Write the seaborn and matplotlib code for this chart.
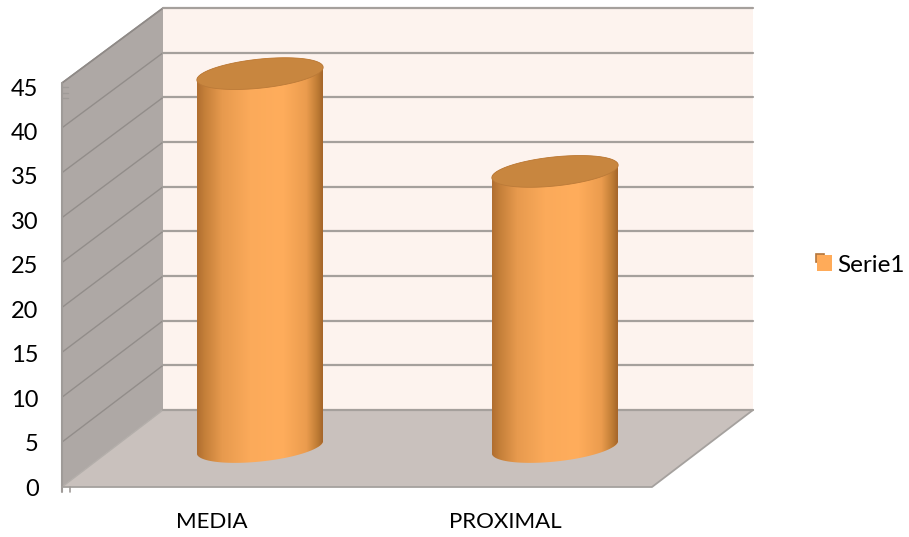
import numpy as np
import pandas as pd
import matplotlib
matplotlib.use("Agg")
import matplotlib.pyplot as plt
import seaborn as sns
from matplotlib.colors import LinearSegmentedColormap
from matplotlib.patches import Polygon, Rectangle, PathPatch, Patch
from matplotlib.path import Path
from matplotlib.transforms import IdentityTransform

categories = ["MEDIA", "PROXIMAL"]
values = [42, 31]
series_name = "Serie1"
y_ticks = [0, 5, 10, 15, 20, 25, 30, 35, 40, 45]

sns.set_theme(style="white")
plt.rcParams["font.family"] = ["Lato", "DejaVu Sans"]

W, H = 909, 537
fig = plt.figure(figsize=(W / 100, H / 100), dpi=100)
fig.patch.set_facecolor("white")


def box(x0, y0, x1, y1):
    return [x0 / W, 1 - y1 / H, (x1 - x0) / W, (y1 - y0) / H]


WALL = "#fdf3ee"
SIDE = "#aea8a5"
FLOOR = "#c9c1bd"
LINE = "#a5a09c"
BAR = "#ffab59"
TEXT = "#000000"

# Side wall and floor, in pixel space
bg = fig.add_axes([0, 0, 1, 1], zorder=0)
bg.set_xlim(0, W)
bg.set_ylim(H, 0)
bg.axis("off")
bg.add_patch(Polygon([(62, 83), (163, 8), (163, 410), (62, 487)], fc=SIDE, ec="none"))
bg.add_patch(Polygon([(62, 487), (163, 410), (753, 410), (652, 487)], fc=FLOOR, ec="none"))
for v in y_ticks[1:]:
    bg.plot([62, 163], [487 - v * 8.98, 410 - v * 8.93], color="#928d8a", lw=1.0, solid_capstyle="butt")
bg.plot([62, 163], [83, 8], color="#8f8a87", lw=1.2)
bg.plot([62, 163], [487, 410], color="#b3aeaa", lw=1.0)
bg.plot([62, 62], [83, 492], color="#9f9b98", lw=1.5)
bg.plot([62, 652, 753], [487, 487, 410], color="#a5a19e", lw=1.3)
bg.plot([70, 70], [487, 492], color="#9f9b98", lw=1.2)
for yy in (87, 93, 98):
    bg.plot([62, 68], [yy, yy], color="#9f9b98", lw=1.0)

# Back wall with its gridlines
wall = fig.add_axes(box(163, 8, 753, 410), zorder=1)
wall.set_facecolor(WALL)
wall.set_xlim(0, 1)
wall.set_ylim(0, 45)
wall.set_yticks(y_ticks)
wall.set_xticks([])
wall.tick_params(left=False, labelleft=False)
wall.grid(axis="y", color=LINE, lw=1.6)
for gl in wall.get_ygridlines():
    gl.set_clip_on(False)
wall.set_axisbelow(False)
for s in wall.spines.values():
    s.set_visible(False)

# Front axis carrying the tick labels
front = fig.add_axes(box(65, 87, 652, 487), zorder=2)
front.patch.set_alpha(0)
front.set_xlim(-0.5, 1.5)
front.set_ylim(0, 45)
front.set_yticks(y_ticks)
front.set_yticklabels([str(v) for v in y_ticks], fontsize=17, color=TEXT)
front.set_xticks([0, 1])
front.set_xticklabels(categories, fontsize=16, color=TEXT)
front.tick_params(axis="both", length=0)
front.tick_params(axis="y", pad=19)
front.tick_params(axis="x", pad=18)
for s in front.spines.values():
    s.set_visible(False)

# Cylinders: full-figure axes whose scales place the bars on the floor
ax = fig.add_axes([0, 0, 1, 1], zorder=3)
ax.patch.set_alpha(0)
df = pd.DataFrame({"cat": categories, "value": values, "serie": series_name})
sns.barplot(data=df, x="cat", y="value", hue="serie", palette=[BAR], width=126 / 295,
            dodge=False, saturation=1, ax=ax, legend=False, linewidth=0)
px_x, px_y = 295, 8.89
xlim = (-260 / px_x, (W - 260) / px_x)
ylim = (-(H - 447) / px_y, 447 / px_y)
ax.set_xlim(*xlim)
ax.set_ylim(*ylim)
ax.axis("off")

cmap = LinearSegmentedColormap.from_list(
    "cyl", [(0, "#b06e30"), (0.06, "#c47f39"), (0.2, "#e79a4e"), (0.42, "#fbaa5a"),
            (0.68, "#ffad5c"), (0.87, "#eb9c4e"), (0.96, "#bd7b34"), (1, "#a5652a")])
A, B, TH = 63.5, 14.5, np.radians(6)


def arc(cx, cy, t):
    return np.column_stack([
        cx + A * np.cos(t) * np.cos(TH) - B * np.sin(t) * np.sin(TH),
        cy + A * np.cos(t) * np.sin(TH) + B * np.sin(t) * np.cos(TH)])


grad = np.linspace(0, 1, 256)[None, :]
for i, (bar, v) in enumerate(zip(ax.patches, values)):
    (cx0, cy0) = ax.transData.transform((i, 0))
    (cx1, cy1) = ax.transData.transform((i, v))
    up = np.linspace(0, np.pi, 80)
    down = np.linspace(np.pi, 2 * np.pi, 80)
    outline = np.vstack([arc(cx1, cy1, up), arc(cx0, cy0, down), arc(cx1, cy1, up[:1])])
    body = Path(outline, closed=True)
    bar.set_clip_path(body, IdentityTransform())
    x0, wd = bar.get_x(), bar.get_width()
    im = ax.imshow(grad, extent=(x0, x0 + wd, -4, v + 4), aspect="auto", cmap=cmap,
                   vmin=0, vmax=1, zorder=3)
    im.set_clip_path(body, IdentityTransform())
    top = Path(arc(cx1, cy1, np.linspace(0, 2 * np.pi, 160)), closed=True)
    ax.add_patch(PathPatch(top, fc="#c8863f", ec="#bb7a38", lw=0.6,
                           transform=IdentityTransform(), zorder=4))
ax.set_xlim(*xlim)
ax.set_ylim(*ylim)

# Legend
leg = fig.legend(handles=[Patch(fc=BAR, ec="none", label=series_name)], loc="center left",
                 bbox_to_anchor=(817 / W, 1 - 265 / H), frameon=False, fontsize=17.5,
                 borderaxespad=0, borderpad=0,
                 handlelength=0.6, handleheight=0.6, handletextpad=0.25, labelcolor=TEXT)
bg.add_patch(Rectangle((816, 254), 8, 8, fc="#f6b77c", ec="#b5763a", lw=1.2, zorder=10))
leg.set_zorder(5)

fig.savefig("out.png", dpi=100)
